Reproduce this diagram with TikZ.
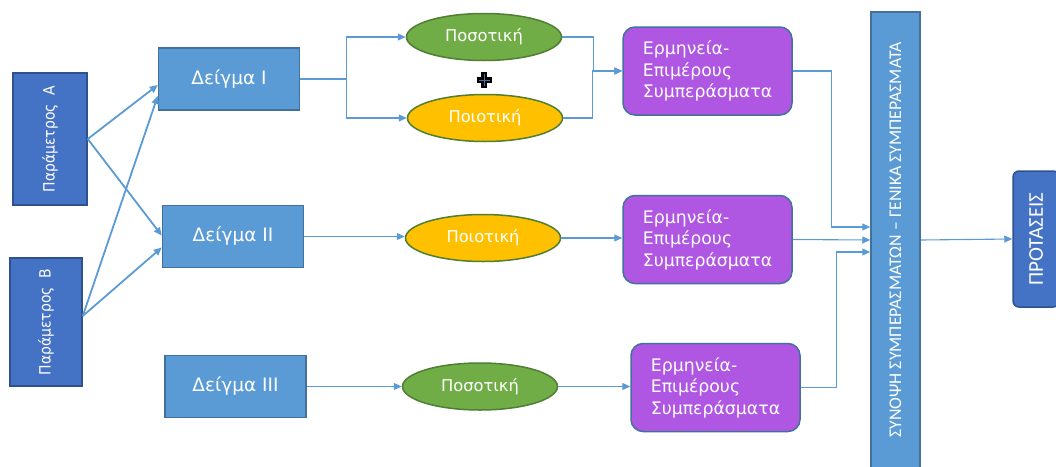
\documentclass[tikz,border=0pt]{standalone}
\usepackage{fontspec}
\setmainfont{DejaVu Sans}
\newfontfamily\condfont{DejaVu Sans Condensed}
\newfontfamily\capsfont{Carlito}
\usetikzlibrary{arrows.meta,shapes.geometric}
\definecolor{darkbl}{HTML}{4472C4}
\definecolor{darkbldraw}{HTML}{2F528F}
\definecolor{lightbl}{HTML}{5B9BD5}
\definecolor{lightbldraw}{HTML}{41719C}
\definecolor{grn}{HTML}{70AD47}
\definecolor{grndraw}{HTML}{507E32}
\definecolor{ylw}{HTML}{FFC000}
\definecolor{purp}{HTML}{AF57E3}
\definecolor{wire}{HTML}{5B9BD5}
\begin{document}
\begin{tikzpicture}[x=1pt,y=-1pt,
  every node/.style={inner sep=0pt,text=white},
  parbox/.style={draw=darkbldraw,fill=darkbl,line width=1.5pt,font=\condfont\fontsize{15.5}{17}\selectfont},
  sample/.style={draw=lightbldraw,fill=lightbl,line width=1.5pt,minimum width=141pt,minimum height=62pt,font=\fontsize{18.5}{21}\selectfont},
  quant/.style={ellipse,draw=grndraw,fill=grn,line width=1.5pt,minimum width=155pt,minimum height=47pt,font=\fontsize{16.3}{18}\selectfont},
  qual/.style={quant,fill=ylw},
  result/.style={draw=lightbldraw,fill=purp,line width=1.5pt,rounded corners=12pt,minimum width=169pt,minimum height=88pt,align=left,font=\fontsize{17.3}{21.5}\selectfont},
  wire/.style={draw=wire,line width=1.1pt},
  arr/.style={wire,-{Triangle[length=8pt,width=7pt]}},
  thick arr/.style={arr,line width=1.8pt}]
\useasboundingbox (0,0) rectangle (1056,466);

% parameters
\node[parbox,minimum width=74pt,minimum height=132pt] (pa) at (50,139) {\rotatebox{90}{Παράμετρος\ \ A}};
\node[parbox,minimum width=72pt,minimum height=128pt] (pb) at (46,322) {\rotatebox{90}{Παράμετρος\ \ B}};

% samples
\node[sample] (d1) at (229,79) {Δείγμα I};
\node[sample] (d2) at (233,236.5) {Δείγμα II};
\node[sample] (d3) at (235.5,386.5) {Δείγμα III};

% research methods
\node[quant] (e1) at (484,37) {Ποσοτική};
\node[qual] (e2) at (485,118) {Ποιοτική};
\node[qual] (e3) at (483,238) {Ποιοτική};
\node[quant] (e4) at (480,386.5) {Ποσοτική};

% plus sign between the two methods of the first sample
\coordinate (plus) at (484,80);
\draw[black,line width=5.5pt] ([yshift=8pt]plus) -- ([yshift=-8pt]plus) ([xshift=-7.5pt]plus) -- ([xshift=7.5pt]plus);
\draw[lightbldraw,line width=0.9pt] ([yshift=6pt]plus) -- ([yshift=-6pt]plus) ([xshift=-5.5pt]plus) -- ([xshift=5.5pt]plus);

% interpretations
\node[result] (r1) at (707.5,71) {Ερμηνεία-\\Επιμέρους\\Συμπεράσματα};
\node[result] (r2) at (707.5,239.5) {Ερμηνεία-\\Επιμέρους\\Συμπεράσματα};
\node[result] (r3) at (715.5,387.5) {Ερμηνεία-\\Επιμέρους\\Συμπεράσματα};

% summary and proposals
\node[draw=lightbldraw,fill=lightbl,line width=1.5pt,minimum width=49pt,minimum height=456pt,
  font=\capsfont\fontsize{17.8}{19}\selectfont] (sy) at (895.5,240)
  {\rotatebox{90}{ΣΥΝΟΨΗ ΣΥΜΠΕΡΑΣΜΑΤΩΝ – ΓΕΝΙΚΑ ΣΥΜΠΕΡΑΣΜΑΤΑ}};
\node[draw=darkbldraw,fill=darkbl,line width=1.5pt,rounded corners=6pt,minimum width=46pt,minimum height=136pt,
  font=\capsfont\fontsize{21}{23}\selectfont] (pr) at (1036,239) {\rotatebox{90}{ΠΡΟΤΑΣΕΙΣ}};

% parameters to samples
\draw[thick arr] (pa.east) -- ([yshift=-6pt]d1.west);
\draw[thick arr] (pa.east) -- ([yshift=1pt]d2.west);
\draw[thick arr] ([yshift=6pt]pb.east) -- ([yshift=-17pt]d1.west);
\draw[thick arr] ([yshift=6pt]pb.east) -- ([yshift=-11pt]d2.west);

% samples to methods
\draw[arr] (d1.east) -- ++(46,0) |- (e1.west);
\draw[arr] (d1.east) -- ++(46,0) |- (e2.west);
\draw[arr] (d2.east) -- (d2.east -| e3.west);
\draw[arr] (d3.east) -- (d3.east -| e4.west);

% methods to interpretations
\draw[arr] (e1.east) -- ++(31,0) |- (r1.west);
\draw[arr] (e2.east) -- ++(29,0) |- (r1.west);
\draw[arr] (e3.east) -- (e3.east -| r2.west);
\draw[arr] (e4.east) -- (e4.east -| r3.west);

% interpretations to summary
\draw[arr] (r1.east) -- ++(39,0) |- ([yshift=13pt]sy.west);
\draw[arr] (r2.east) -- (sy.west);
\draw[arr] (r3.east) -- ++(36,0) |- ([yshift=-12pt]sy.west);

% summary to proposals
\draw[arr] (sy.east) -- (pr.west);
\end{tikzpicture}
\end{document}
